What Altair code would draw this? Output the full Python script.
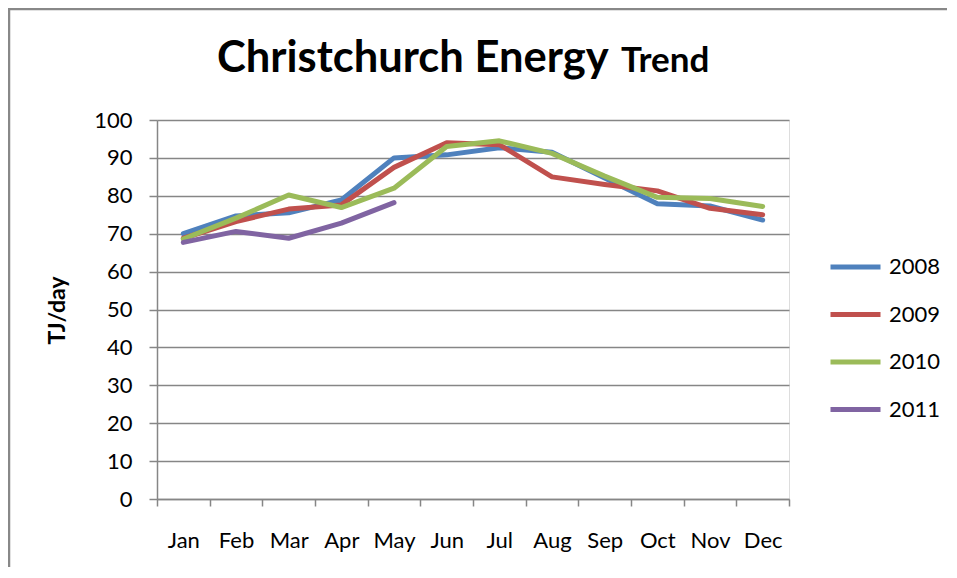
import altair as alt
import pandas as pd

months = ["Jan", "Feb", "Mar", "Apr", "May", "Jun", "Jul", "Aug", "Sep", "Oct", "Nov", "Dec"]
y2008 = [70.0, 74.7, 75.5, 78.9, 90.0, 90.8, 92.7, 91.5, 84.7, 77.9, 77.3, 73.6]
y2009 = [68.8, 73.2, 76.5, 77.6, 87.5, 94.0, 93.5, 85.0, 83.0, 81.3, 76.7, 75.0]
y2010 = [68.6, 74.1, 80.2, 76.9, 82.0, 93.0, 94.5, 91.2, 85.2, 79.6, 79.3, 77.2]
y2011 = [67.7, 70.6, 68.8, 72.8, 78.2]
series = ["2008", "2009", "2010", "2011"]
colors = ["#4F81BD", "#C0504D", "#9BBB59", "#8064A2"]

rows = []
for name, vals in zip(series, [y2008, y2009, y2010, y2011]):
    for m, v in zip(months, vals):
        rows.append({"month": m, "year": name, "value": v})
df = pd.DataFrame(rows)

FONT = "Lato"
W, H = 632, 379

lines = alt.Chart(df).mark_line(strokeWidth=5, strokeJoin="round", strokeCap="round").encode(
    x=alt.X("month:N", sort=months, title=None,
            scale=alt.Scale(paddingInner=0, paddingOuter=0),
            axis=alt.Axis(labelAngle=0, labelFont=FONT, labelFontSize=22, labelColor="#000",
                          domainColor="#868686", tickColor="#868686", tickSize=7,
                          tickBand="extent", labelPadding=24, grid=False, domainWidth=1.5,
                          tickWidth=1.5)),
    y=alt.Y("value:Q", title="TJ/day",
            scale=alt.Scale(domain=[0, 100], nice=False),
            axis=alt.Axis(values=list(range(0, 101, 10)), labelFont=FONT, labelFontSize=22,
                          labelColor="#000", domainColor="#868686", tickColor="#868686",
                          tickSize=8, labelPadding=17, gridColor="#868686", gridWidth=1.5,
                          domainWidth=1.5, tickWidth=1.5,
                          titleFont=FONT, titleFontSize=23, titleFontWeight="bold",
                          titleColor="#000", titleX=-100, titleY=190, titleAngle=-90,
                          titleAlign="center", titleBaseline="middle")),
    color=alt.Color("year:N", scale=alt.Scale(domain=series, range=colors), title=None,
                    legend=alt.Legend(orient="none", legendX=671, legendY=137,
                                      symbolType="stroke", symbolSize=2500,
                                      symbolStrokeWidth=5, clipHeight=20, rowPadding=25.5,
                                      labelFont=FONT, labelFontSize=22, labelColor="#000",
                                      labelOffset=6)),
)

title_main = alt.Chart(pd.DataFrame({"t": ["Christchurch Energy"]})).mark_text(
    font=FONT, fontSize=43.5, fontWeight="bold", align="left", baseline="alphabetic", color="#000"
).encode(text="t:N", x=alt.value(60), y=alt.value(-48))

title_sub = alt.Chart(pd.DataFrame({"t": ["Trend"]})).mark_text(
    font=FONT, fontSize=35, fontWeight="bold", align="left", baseline="alphabetic", color="#000"
).encode(text="t:N", x=alt.value(464), y=alt.value(-48))

frame = alt.Chart(pd.DataFrame({"a": [0]})).mark_rect(
    fill=None, stroke="#888888", strokeWidth=2.5
).encode(x=alt.value(-148), x2=alt.value(W + 200), y=alt.value(-111), y2=alt.value(H + 100))

chart = alt.layer(frame, lines, title_main, title_sub).properties(
    width=W, height=H,
    autosize=alt.AutoSizeParams(type="none"),
    padding={"left": 149, "top": 112, "right": 158, "bottom": 68},
).configure_view(stroke=None).configure(background="white")

chart.save("out.html", embed_options={"renderer": "svg", "actions": False})
